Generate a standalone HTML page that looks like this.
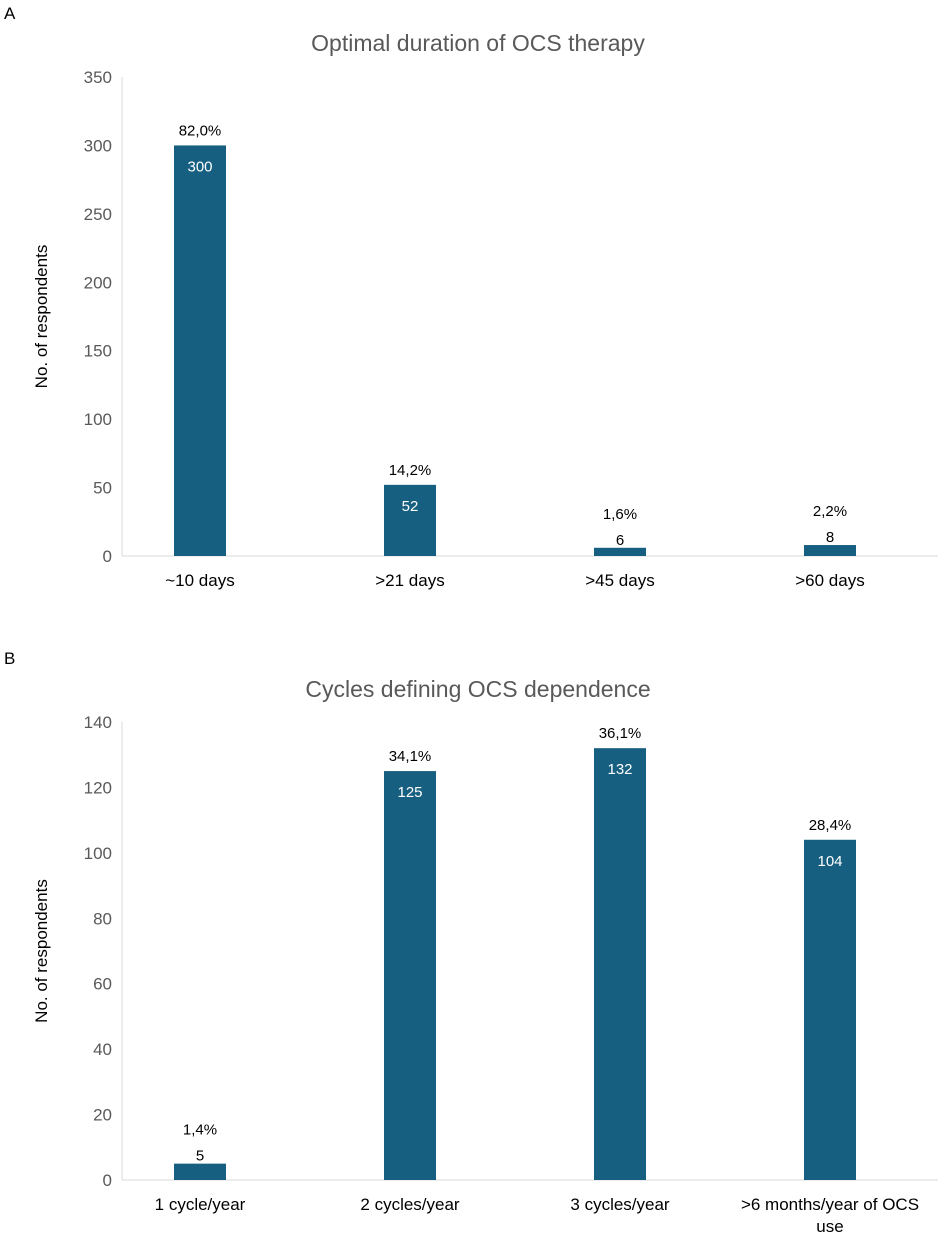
<!DOCTYPE html>
<html><head><meta charset="utf-8"><style>
body{margin:0;background:#fff;font-family:"Liberation Sans",Arial,sans-serif}
svg text{font-family:"Liberation Sans",Arial,sans-serif}
</style></head><body>
<svg id="c" width="944" height="1233" xmlns="http://www.w3.org/2000/svg"></svg>
<script>
const catsA=["~10 days",">21 days",">45 days",">60 days"];
const valsA=[300,52,6,8];
const pctA=["82,0%","14,2%","1,6%","2,2%"];
const ticksA=[0,50,100,150,200,250,300,350];
const catsB=["1 cycle/year","2 cycles/year","3 cycles/year",">6 months/year of OCS|use"];
const valsB=[5,125,132,104];
const pctB=["1,4%","34,1%","36,1%","28,4%"];
const ticksB=[0,20,40,60,80,100,120,140];
const svg=document.getElementById('c');
const NS="http://www.w3.org/2000/svg";
function mk(tag,attrs,txt){const e=document.createElementNS(NS,tag);for(const k in attrs)e.setAttribute(k,attrs[k]);if(txt!==undefined)e.textContent=txt;svg.appendChild(e);return e;}
function panel(p){
  const y=v=>p.y0-(v/p.max)*(p.y0-p.yTop);
  const x=i=>200+i*210;
  let e=mk('text',{x:4,y:p.letterY,'font-size':17,fill:'#000'},p.letter);
  
  
  e=mk('text',{x:478,y:p.titleY,'font-size':23,fill:'#595959','text-anchor':'middle'},p.title);
  
  
  e=mk('text',{x:0,y:0,'font-size':17,fill:'#000','text-anchor':'middle',transform:`translate(47,${(p.y0+p.yTop)/2}) rotate(-90)`},'No. of respondents');
  
  
  p.ticks.forEach(t=>{
    const l=mk('text',{x:112,y:y(t)+6,'font-size':17,fill:'#595959','text-anchor':'end'},t);
    
    
  });
  e=mk('line',{x1:122,y1:p.yTop,x2:122,y2:p.y0,stroke:'#d9d9d9','stroke-width':1});
  
  
  e=mk('line',{x1:122,y1:p.y0,x2:938,y2:p.y0,stroke:'#d9d9d9','stroke-width':1});
  
  
  p.vals.forEach((v,i)=>{
    const top=y(v);
    const r=mk('rect',{x:x(i)-26,y:top,width:52,height:p.y0-top,fill:'#175f80'});
    
    
    const small=(p.y0-top)<30;
    const vy=small?top-3:top+26;
    const vl=mk('text',{x:x(i),y:vy,'font-size':15,fill:small?'#000':'#fff','text-anchor':'middle'},v);
    
    
    const py=small?top-29:top-10;
    const pl=mk('text',{x:x(i),y:py,'font-size':15,fill:'#000','text-anchor':'middle'},p.pct[i]);
    
    
    p.cats[i].split('|').forEach((s,j)=>{
      const cl=mk('text',{x:x(i),y:p.y0+30+j*22,'font-size':17,fill:'#000','text-anchor':'middle'},s);
      
      
    });
  });
}
panel({letter:'A',letterY:19,title:'Optimal duration of OCS therapy',titleY:51,yTop:77,y0:556,max:350,ticks:ticksA,vals:valsA,pct:pctA,cats:catsA});
panel({letter:'B',letterY:664,title:'Cycles defining OCS dependence',titleY:697,yTop:722,y0:1180,max:140,ticks:ticksB,vals:valsB,pct:pctB,cats:catsB});
</script>
</body></html>
